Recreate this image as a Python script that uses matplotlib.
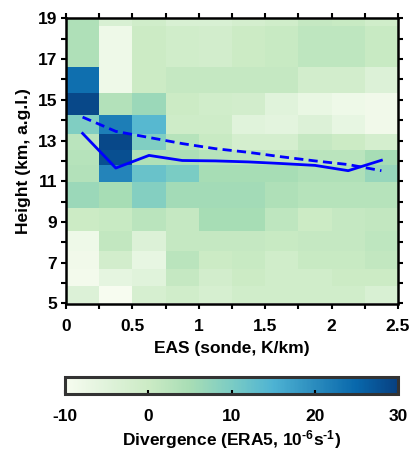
import matplotlib
matplotlib.use('Agg')
import matplotlib.pyplot as plt
import numpy as np

plt.rcParams['font.family'] = ['Liberation Sans', 'DejaVu Sans']
plt.rcParams['font.weight'] = 'bold'
plt.rcParams['axes.labelweight'] = 'bold'
plt.rcParams['mathtext.fontset'] = 'custom'
plt.rcParams['mathtext.rm'] = 'Liberation Sans:bold'
plt.rcParams['mathtext.bf'] = 'Liberation Sans:bold'
plt.rcParams['mathtext.default'] = 'bf'

# EAS bin edges (K/km) and height bin edges (km)
eas_edges = [0.0, 0.25, 0.5, 0.75, 1.0, 1.25, 1.5, 1.75, 2.0, 2.25, 2.5]
height_edges = [5.0, 5.87, 6.69, 7.60, 8.58, 9.70, 10.96, 11.78, 12.52,
                13.31, 14.25, 15.32, 16.63, 18.63, 19.0]

# Divergence (ERA5, 1e-6 s^-1): rows = height levels (bottom -> top), cols = EAS bins
divergence = [
    [-4.0, -10.0, -2.5, -1.0, -2.5, -1.0, -1.0, -1.0, -1.0, -3.0],
    [-9.0, -6.0, -5.0, 1.0, -1.5, 0.0, -1.0, -1.0, 0.0, 0.0],
    [-8.5, -1.5, -6.5, 2.5, 0.0, 0.5, -1.0, 0.5, 0.5, 1.5],
    [-8.0, 1.5, -4.0, 1.0, 1.0, 1.0, 0.5, 1.0, 1.0, 2.0],
    [0.0, 0.5, 2.5, 1.0, 5.0, 5.0, 2.0, 0.0, 1.0, 1.5],
    [6.5, 5.0, 9.0, 5.5, 5.5, 5.5, 4.0, 3.0, 3.0, 3.0],
    [3.5, 21.0, 12.0, 10.0, 5.0, 5.0, 5.0, 4.0, 4.0, 7.0],
    [3.0, 28.0, 4.0, 4.5, 3.0, 2.5, 1.5, 2.5, 2.5, 5.0],
    [2.5, 29.0, 9.5, 3.0, 0.5, -2.0, -2.0, 1.0, 0.0, -2.0],
    [9.5, 22.0, 14.0, -0.5, -0.5, -5.0, -5.5, -4.0, -6.5, -8.5],
    [29.0, 3.5, 6.5, 0.0, -1.0, -1.5, -5.0, -7.0, -8.0, -8.5],
    [24.0, -8.0, 0.0, 1.0, 1.0, 1.0, 1.0, -1.5, -1.5, -4.0],
    [4.0, -8.0, 0.0, -1.0, -1.5, 0.0, 0.5, 2.0, 2.0, 0.5],
    [4.0, -3.0, -1.0, -3.0, -3.0, -2.0, -1.0, 1.0, 0.5, -1.0],
]

# Lines
eas_centers = [0.125, 0.375, 0.625, 0.875, 1.125, 1.375, 1.625, 1.875, 2.125, 2.375]
height_solid = [13.35, 11.65, 12.27, 12.02, 12.0, 11.95, 11.87, 11.78, 11.52, 12.03]
height_dashed = [14.15, 13.45, 13.15, 12.85, 12.6, 12.42, 12.2, 12.0, 11.82, 11.52]

FS = 12.5
W, H = 410, 455
fig = plt.figure(figsize=(W / 100, H / 100), dpi=100)
ax = fig.add_axes([66 / W, 1 - 303.5 / H, 332 / W, 285.2 / H])

mesh = ax.pcolormesh(eas_edges, height_edges, np.array(divergence), cmap='GnBu',
                     vmin=-10, vmax=30, shading='flat')
ax.plot(eas_centers, height_solid, color=(0, 0, 1), lw=2.0)
ln, = ax.plot(eas_centers, height_dashed, color=(0, 0, 1), lw=2.0)
ln.set_dashes([3.3, 1.9])

ax.set_xlim(0, 2.5)
ax.set_ylim(5, 19)
ax.set_xticks([0, 0.5, 1, 1.5, 2, 2.5])
ax.set_xticklabels(['0', '0.5', '1', '1.5', '2', '2.5'])
ax.set_xticks(np.arange(0, 2.51, 0.25), minor=True)
ax.set_yticks([5, 7, 9, 11, 13, 15, 17, 19])
ax.set_yticks(np.arange(5, 19.1, 1), minor=True)
ax.tick_params(which='both', direction='out', top=True, right=True,
               labeltop=False, labelright=False, width=1.5, labelsize=FS,
               length=3.5)
ax.tick_params(axis='x', pad=8)
ax.tick_params(axis='y', pad=3)
for s in ax.spines.values():
    s.set_linewidth(1.8)
ax.set_xlabel('EAS (sonde, K/km)', fontsize=FS, labelpad=5)
ax.set_ylabel('Height (km, a.g.l.)', fontsize=FS, labelpad=5)

cax = fig.add_axes([65 / W, 1 - 394 / H, 333 / W, 16.7 / H])
cb = fig.colorbar(mesh, cax=cax, orientation='horizontal')
cb.set_ticks([-10, 0, 10, 20, 30])
cb.set_ticklabels(['-10', '0', '10', '20', '30'])
cb.outline.set_linewidth(2.2)
cb.outline.set_edgecolor('#333333')
cb.ax.tick_params(direction='in', length=3, width=1.5, labelsize=FS, pad=11)
cb.set_label('Divergence (ERA5, 10$^{\\text{-}6}$s$^{\\text{-}1}$)', fontsize=FS,
             fontweight='bold', labelpad=3)

fig.savefig('out.png', dpi=100)
